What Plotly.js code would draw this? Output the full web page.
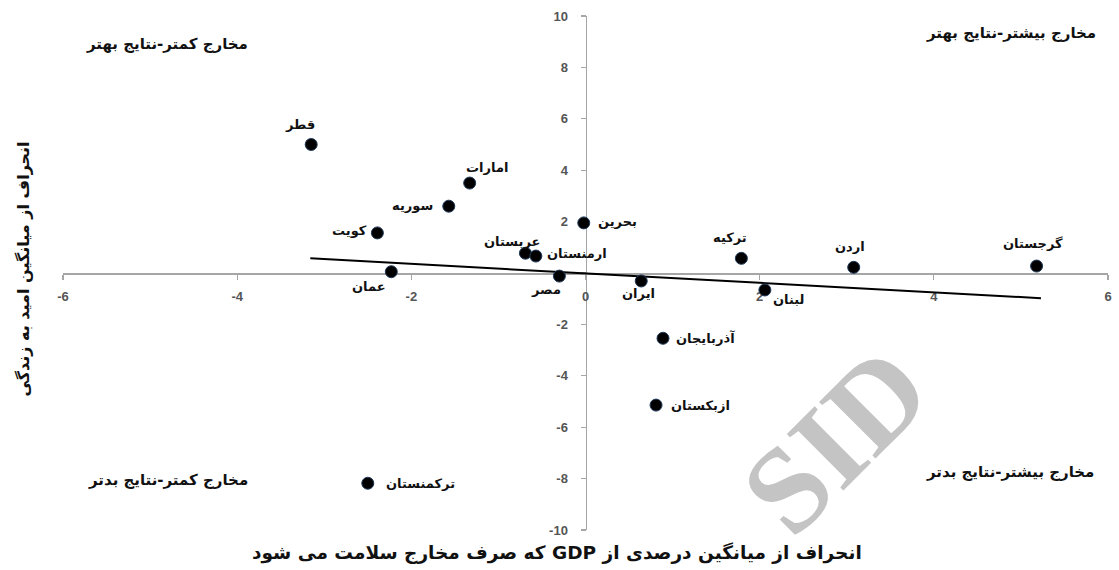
<!DOCTYPE html>
<html>
<head>
<meta charset="utf-8">
<script src="https://cdn.plot.ly/plotly-3.0.1.min.js"></script>
<style>html,body{margin:0;padding:0;background:#fff;}#chart{width:1119px;height:570px;}</style>
</head>
<body>
<div id="chart"></div>
<script>
// ---- data ----
var countries = ["قطر","امارات","سوریه","کویت","بحرین","عربستان","ارمنستان","عمان","مصر","ایران","لبنان","ترکیه","اردن","گرجستان","آذربایجان","ازبکستان","ترکمنستان"];
var healthSpendDev = [-3.15,-1.33,-1.57,-2.39,-0.02,-0.69,-0.57,-2.23,-0.30,0.64,2.06,1.79,3.08,5.18,0.89,0.81,-2.50];
var lifeExpDev = [5.0,3.5,2.6,1.56,1.95,0.77,0.66,0.05,-0.12,-0.31,-0.66,0.57,0.22,0.27,-2.54,-5.14,-8.18];
var trendX = [-3.16, 5.23];
var trendY = [0.57, -0.98];
var xTickVals = [-6,-4,-2,0,2,4,6];
var xTickText = ["-6","-4","-2","0","2","4","6"];
var yTickVals = [-10,-8,-6,-4,-2,0,2,4,6,8,10];
var yTickText = ["-10","-8","-6","-4","-2","","2","4","6","8","10"];
var quadrantLabels = ["مخارج کمتر-نتایج بهتر","مخارج بیشتر-نتایج بهتر","مخارج کمتر-نتایج بدتر","مخارج بیشتر-نتایج بدتر"];
var xTitle = "انحراف از میانگین درصدی از GDP که صرف مخارج سلامت می شود";
var yTitle = "انحراف از میانگین امید به زندگی";
var watermark = "SID";

// ---- label placement (style) ----
var labAnchor = ["center","center","right","right","left","center","left","center","center","center","center","center","center","center","left","left","left"];
var labDx = [-11,17,-14,-8,12,-13,9,-22,-13,-3,24,-11,-4,-4,11,13,16];
var labDy = [20,16,1,2,1,12,3,-15,-13,-13,-10,21,21,23,0,0,0];
var quadX = [-4.81,4.89,-4.80,4.87];
var quadY = [8.91,9.34,-8.05,-7.74];

var persianFont = {family:"DejaVu Sans", size:13, color:"#111", weight:"bold"};
var annotations = [];
annotations.push({text:watermark, x:2.86, y:-6.5, xref:"x", yref:"y", showarrow:false,
  textangle:-45, font:{family:"Liberation Serif", size:122, color:"#c4c4c4", weight:"bold"}});
for (var i=0;i<countries.length;i++){
  annotations.push({text:countries[i], x:healthSpendDev[i], y:lifeExpDev[i], xref:"x", yref:"y",
    showarrow:false, xanchor:labAnchor[i], yanchor:"middle", xshift:labDx[i], yshift:labDy[i], font:persianFont});
}
for (var q=0;q<quadrantLabels.length;q++){
  annotations.push({text:quadrantLabels[q], x:quadX[q], y:quadY[q], xref:"x", yref:"y", showarrow:false,
    font:{family:"DejaVu Sans", size:15, color:"#111", weight:"bold"}});
}
annotations.push({text:"\u202B"+xTitle+"\u202C", x:0.473, y:0, xref:"paper", yref:"paper", yanchor:"middle", yshift:-23,
  showarrow:false, font:{family:"DejaVu Sans", size:18.5, color:"#111", weight:"bold"}});
annotations.push({text:yTitle, x:0, y:0.5, xref:"paper", yref:"paper", xshift:-52, yshift:4, textangle:-90,
  showarrow:false, font:{family:"DejaVu Sans", size:16, color:"#111", weight:"bold"}});

var traces = [
  {x:trendX, y:trendY, mode:"lines", type:"scatter", line:{color:"#000", width:2}, hoverinfo:"skip", showlegend:false},
  {x:healthSpendDev, y:lifeExpDev, mode:"markers", type:"scatter",
   marker:{color:"#000", size:12, line:{color:"#1f3a5a", width:1}}, showlegend:false}
];

var axisCommon = {
  showgrid:false, zeroline:false, showline:true, linecolor:"#a6a6a6", linewidth:1.5,
  ticks:"outside", ticklen:5, tickcolor:"#a6a6a6", tickwidth:1.2, anchor:"free", position:0.5,
  layer:"below traces", tickfont:{family:"Liberation Sans", size:13, color:"#555", weight:"bold"}
};
var layout = {
  width:1119, height:570,
  margin:{l:63, r:11, t:16, b:40},
  paper_bgcolor:"#fff", plot_bgcolor:"#fff",
  xaxis:Object.assign({}, axisCommon, {range:[-6,6], tickmode:"array", tickvals:xTickVals, ticktext:xTickText, ticklabelstandoff:6}),
  yaxis:Object.assign({}, axisCommon, {range:[-10,10], tickmode:"array", tickvals:yTickVals, ticktext:yTickText, ticklabelstandoff:10}),
  annotations:annotations,
  showlegend:false
};
Plotly.newPlot("chart", traces, layout, {displayModeBar:false, staticPlot:true});
</script>
</body>
</html>
